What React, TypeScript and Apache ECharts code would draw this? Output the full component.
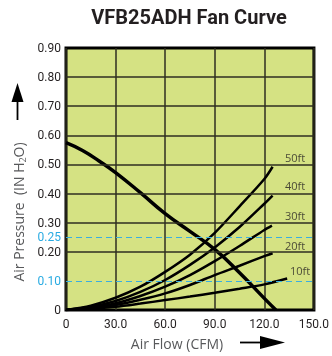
import React, { useEffect, useRef } from "react";
import * as echarts from "echarts";

const titleText = "VFB25ADH Fan Curve";
const xTickValues = [0, 30, 60, 90, 120, 150];
const yLabelValues = [0, 0.1, 0.2, 0.25, 0.3, 0.4, 0.5, 0.6, 0.7, 0.8, 0.9];
const blueLabelValues = [0.1, 0.25];
const solidGridValues = [0.2, 0.3, 0.4, 0.5, 0.6, 0.7, 0.8];
const dashedGridValues = [0.1, 0.25];

const fanFlow = [0, 10, 20, 30, 45, 60, 75, 90, 105, 120, 127];
const fanPressure = [0.575, 0.548, 0.512, 0.472, 0.403, 0.331, 0.27, 0.208, 0.128, 0.04, 0];

const sysFlow = [0, 15, 30, 45, 60, 75, 90, 105, 120];
const sys50 = [0, 0.015, 0.042, 0.08, 0.131, 0.19, 0.265, 0.356, 0.45];
const sys40 = [0, 0.011, 0.031, 0.062, 0.103, 0.155, 0.215, 0.285, 0.365];
const sys30 = [0, 0.008, 0.023, 0.048, 0.08, 0.12, 0.168, 0.22, 0.275];
const sys20 = [0, 0.006, 0.017, 0.035, 0.057, 0.086, 0.12, 0.152, 0.185];
const sys10 = [0, 0.004, 0.011, 0.022, 0.034, 0.046, 0.059, 0.073, 0.088];
const sysEnd = [
  [125, 0.492],
  [125, 0.393],
  [124.6, 0.29],
  [125, 0.195],
  [133.8, 0.108],
];
const sysNames = ["50ft", "40ft", "30ft", "20ft", "10ft"];
const sysLabelPos = [
  [138.6, 0.524],
  [138.6, 0.428],
  [138.6, 0.325],
  [138.6, 0.222],
  [141.6, 0.137],
];

const FONT = "'Open Sans', 'Noto Sans', sans-serif";
const LABEL_FONT = "Roboto, 'Open Sans', sans-serif";

export default function App() {
  const ref = useRef<HTMLDivElement>(null);
  useEffect(() => {
    if (!ref.current) return;
    const chart = echarts.init(ref.current, null, { renderer: "svg" });
    const sysSeries = [sys50, sys40, sys30, sys20, sys10];
    const systemCurves = sysSeries.map((vals, i) => ({
      type: "line",
      name: sysNames[i],
      smooth: 0.3,
      symbol: "none",
      z: 3,
      lineStyle: { color: "#000", width: 2.5 },
      data: [...sysFlow.map((f, j) => [f, vals[j]]), sysEnd[i]],
    }));
    chart.setOption({
      animation: false,
      grid: {
        left: 66,
        top: 48,
        right: 16,
        bottom: 46,
        show: true,
        backgroundColor: "#d5e283",
        borderColor: "#000",
        borderWidth: 3,
      },
      xAxis: {
        type: "value",
        min: 0,
        max: 150,
        interval: 30,
        axisLine: { show: false },
        axisTick: { show: false },
        splitLine: { show: true, lineStyle: { color: "#2e2e20", width: 1.5 } },
        axisLabel: {
          margin: 8,
          fontSize: 12,
          fontFamily: LABEL_FONT,
          color: "#231f20",
          customValues: xTickValues,
          formatter: (v: number) => (v === 0 ? "0" : v.toFixed(1)),
        },
      },
      yAxis: {
        type: "value",
        min: 0,
        max: 0.9,
        interval: 0.05,
        axisLine: { show: false },
        axisTick: { show: false },
        splitLine: { show: false },
        axisLabel: {
          margin: 5,
          fontSize: 12,
          lineHeight: 13,
          fontFamily: LABEL_FONT,
          color: "#231f20",
          customValues: yLabelValues,
          formatter: (v: number) => {
            const t = v === 0 ? "0" : v.toFixed(2);
            const isBlue = blueLabelValues.some((b) => Math.abs(b - v) < 1e-6);
            return isBlue ? `{b|${t}}` : t;
          },
          rich: { b: { color: "#29abe2", fontSize: 12, lineHeight: 13, fontFamily: LABEL_FONT } },
        },
      },
      graphic: [
        {
          type: "text",
          x: 189,
          y: 17,
          style: {
            text: titleText,
            font: `bold 20px Roboto, ${FONT}`,
            fill: "#231f20",
            align: "center",
            verticalAlign: "middle",
          },
        },
        {
          type: "text",
          x: 177,
          y: 343,
          style: {
            text: "Air Flow (CFM)",
            font: `14px ${FONT}`,
            fill: "#58595b",
            align: "center",
            verticalAlign: "middle",
          },
        },
        {
          type: "line",
          shape: { x1: 240, y1: 342.5, x2: 262, y2: 342.5 },
          style: { stroke: "#000", lineWidth: 1.8 },
        },
        {
          type: "polygon",
          shape: { points: [[285, 342.5], [260, 336], [260, 349]] },
          style: { fill: "#000" },
        },
        {
          type: "text",
          x: 18,
          y: 212,
          rotation: Math.PI / 2,
          style: {
            text: "{n|Air Pressure  (IN H}{s|2}{n|O)}",
            fill: "#58595b",
            align: "center",
            verticalAlign: "middle",
            rich: {
              n: { fontSize: 14, fontFamily: FONT, fill: "#58595b", lineHeight: 18 },
              s: { fontSize: 9, fontFamily: FONT, fill: "#58595b", lineHeight: 18, padding: [8, 0, 0, 0] },
            },
          },
        },
        {
          type: "line",
          shape: { x1: 17.5, y1: 100, x2: 17.5, y2: 120 },
          style: { stroke: "#000", lineWidth: 1.8 },
        },
        {
          type: "polygon",
          shape: { points: [[17.5, 83], [11.5, 102], [23.5, 102]] },
          style: { fill: "#000" },
        },
      ],
      series: [
        {
          type: "line",
          data: [],
          z: 1,
          silent: true,
          markLine: {
            silent: true,
            symbol: "none",
            label: { show: false },
            data: [
              ...solidGridValues.map((v) => ({
                yAxis: v,
                lineStyle: { color: "#2e2e20", width: 1.6, type: "solid", opacity: 1 },
              })),
              ...dashedGridValues.map((v) => ({
                yAxis: v,
                lineStyle: { color: "#3aaee0", width: 1.2, type: [6, 4], opacity: 1 },
              })),
            ],
          },
        },
        {
          type: "line",
          name: "Fan",
          smooth: true,
          symbol: "none",
          z: 4,
          lineStyle: { color: "#000", width: 3.5 },
          data: fanFlow.map((f, i) => [f, fanPressure[i]]),
        },
        ...systemCurves,
        {
          type: "scatter",
          symbolSize: 0,
          z: 5,
          data: sysLabelPos.map((p, i) => [p[0], p[1], sysNames[i]]),
          label: {
            show: true,
            position: "inside",
            formatter: (p: any) => p.data[2],
            fontSize: 11,
            fontFamily: FONT,
            color: "#231f20",
          },
        },
      ],
    });
    return () => chart.dispose();
  }, []);
  return (
    <div
      ref={ref}
      style={{ position: "fixed", left: 0, top: 0, width: 332, height: 356 }}
    />
  );
}
